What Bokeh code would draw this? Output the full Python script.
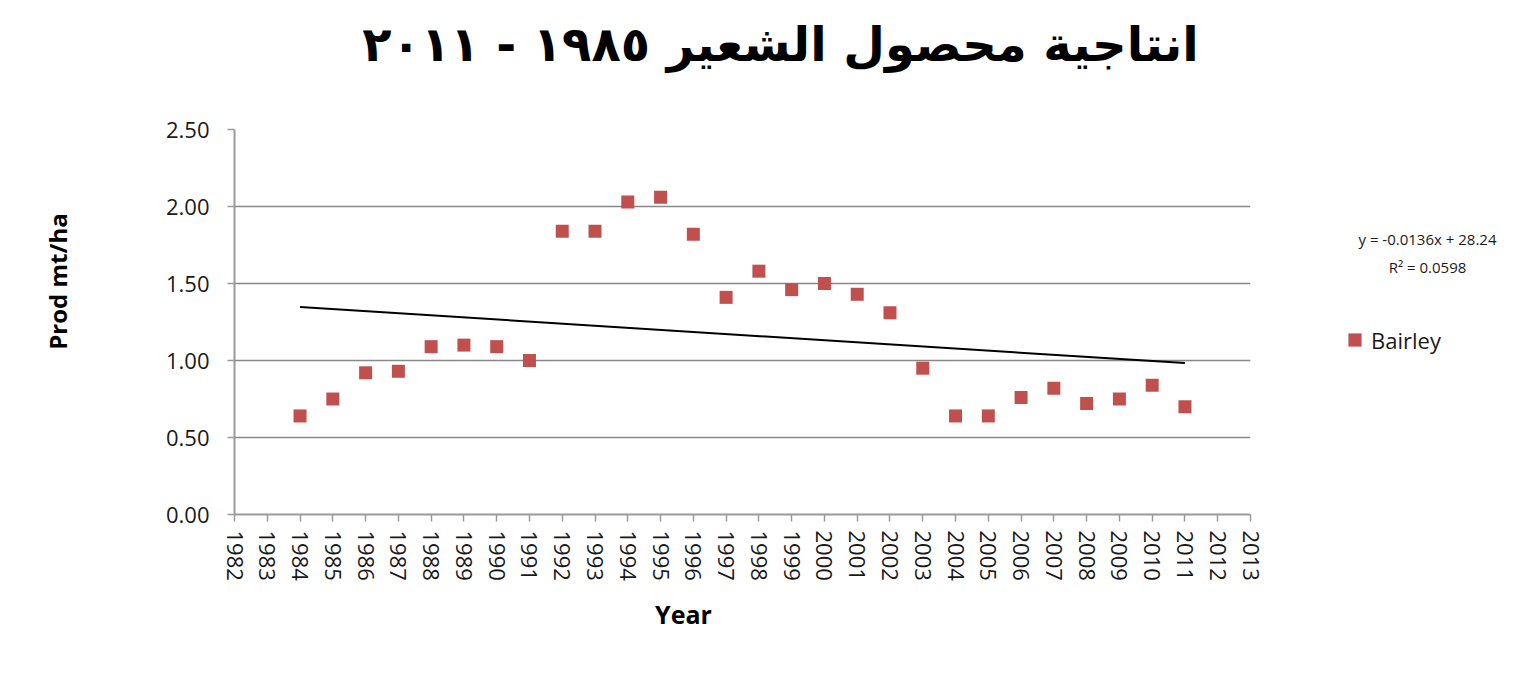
import math
import numpy as np
from bokeh.plotting import figure
from bokeh.models import Range1d, FixedTicker, NumeralTickFormatter, Legend, LegendItem, Label
from bokeh.embed import file_html
from bokeh.resources import INLINE

# ---- data ----
years = [1984, 1985, 1986, 1987, 1988, 1989, 1990, 1991, 1992, 1993, 1994, 1995, 1996, 1997,
         1998, 1999, 2000, 2001, 2002, 2003, 2004, 2005, 2006, 2007, 2008, 2009, 2010, 2011]
prod = [0.64, 0.75, 0.92, 0.93, 1.09, 1.10, 1.09, 1.00, 1.84, 1.84, 2.03, 2.06, 1.82, 1.41,
        1.58, 1.46, 1.50, 1.43, 1.31, 0.95, 0.64, 0.64, 0.76, 0.82, 0.72, 0.75, 0.84, 0.70]
x_ticks = list(range(1982, 2014))
y_ticks = [0.0, 0.5, 1.0, 1.5, 2.0, 2.5]
title_text = "انتاجية محصول الشعير ١٩٨٥ - ٢٠١١"
series_name = "Bairley"
eq_text = "y = -0.0136x + 28.24"
r2_text = "R² = 0.0598"
x_title = "Year"
y_title = "Prod mt/ha"

# linear trend fitted from the data
slope, intercept = np.polyfit(years, prod, 1)
trend_x = [years[0], years[-1]]
trend_y = [slope * x + intercept for x in trend_x]

GRID = "#888888"
AXIS = "#9a9a9a"
RED = "#C0504D"
FONT = "Open Sans"
TXT = "#1a1a1a"

p = figure(width=1524, height=693, frame_width=1016, frame_height=385,
           min_border_left=234, min_border_right=274, min_border_top=129, min_border_bottom=179,
           x_range=Range1d(1982, 2013), y_range=Range1d(0, 2.5),
           output_backend="svg", toolbar_location=None)
p.outline_line_color = None
p.background_fill_color = "white"
p.border_fill_color = "white"

# grid
p.xgrid.visible = False
p.ygrid.ticker = FixedTicker(ticks=y_ticks)
p.ygrid.grid_line_color = GRID
p.ygrid.grid_line_width = 1.5

# x axis
xa = p.xaxis[0]
xa.ticker = FixedTicker(ticks=x_ticks)
xa.major_label_orientation = -math.pi / 2
xa.axis_line_color = AXIS
xa.axis_line_width = 2
xa.major_tick_line_color = AXIS
xa.major_tick_line_width = 1.5
xa.major_tick_out = 7
xa.major_tick_in = 0
xa.minor_tick_line_color = None
xa.major_label_standoff = 9
xa.major_label_text_font = FONT
xa.major_label_text_font_size = "22px"
xa.major_label_text_color = TXT

# y axis
ya = p.yaxis[0]
ya.ticker = FixedTicker(ticks=y_ticks)
ya.formatter = NumeralTickFormatter(format="0.00")
ya.axis_line_color = AXIS
ya.axis_line_width = 2
ya.major_tick_line_color = AXIS
ya.major_tick_line_width = 1.5
ya.major_tick_out = 7
ya.major_tick_in = 0
ya.minor_tick_line_color = None
ya.major_label_standoff = 18
ya.major_label_text_font = FONT
ya.major_label_text_font_size = "22px"
ya.major_label_text_color = TXT

# glyphs
p.line(trend_x, trend_y, line_color="black", line_width=2)
pts = p.scatter(years, prod, marker="square", size=13, fill_color=RED, line_color=None)

# series legend, outside the frame on the right
legend = Legend(items=[LegendItem(label=series_name, renderers=[pts])],
                location=(88, 158), orientation="vertical",
                glyph_width=33, glyph_height=33, label_standoff=0,
                padding=0, margin=0, spacing=0,
                border_line_alpha=0, background_fill_alpha=0,
                label_text_font=FONT, label_text_font_size="22px", label_text_color=TXT)
p.add_layout(legend, "right")

# texts placed in side panels (not clipped to the frame), positioned in data units
p.add_layout(Label(x=1998.66, y=3.058, text=title_text, text_align="center",
                   text_baseline="alphabetic", text_font="DejaVu Sans", text_font_style="bold",
                   text_font_size="48px", text_color="black"), "above")
p.add_layout(Label(x=2018.4, y=1.786, text=eq_text, text_align="center", text_baseline="middle",
                   text_font=FONT, text_font_size="15px", text_color=TXT), "above")
p.add_layout(Label(x=2018.4, y=1.61, text=r2_text, text_align="center", text_baseline="middle",
                   text_font=FONT, text_font_size="15px", text_color=TXT), "below")
p.add_layout(Label(x=1995.70, y=-0.649, text=x_title, text_align="center", text_baseline="middle",
                   text_font=FONT, text_font_style="bold", text_font_size="25px",
                   text_color="black"), "below")
p.add_layout(Label(x=1976.6, y=1.513, text=y_title, angle=math.pi / 2, text_align="center",
                   text_baseline="middle", text_font=FONT, text_font_style="bold",
                   text_font_size="24px", text_color="black"), "left")

open("out.html", "w").write(file_html(p, INLINE))
